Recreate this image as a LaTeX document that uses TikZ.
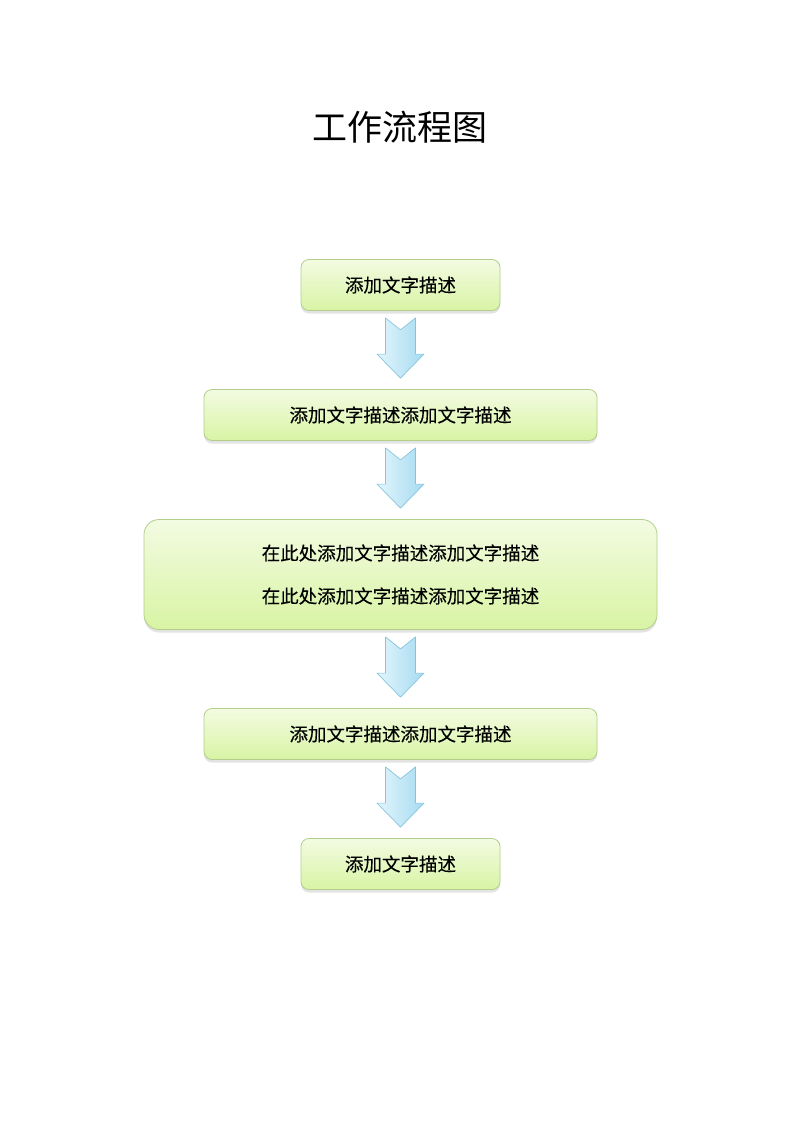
\documentclass[tikz,border=0pt]{standalone}
\usepackage{fontspec}
\setmainfont{Noto Sans CJK SC}
\newfontfamily\boxfont[FakeBold=0.4]{Noto Sans CJK SC}
\usetikzlibrary{positioning,calc,shadows}

\definecolor{boxtop}{HTML}{F3FBE2}
\definecolor{boxbot}{HTML}{D8F4A4}
\definecolor{boxline}{HTML}{B3CE8C}
\definecolor{arrleft}{HTML}{E2F5FC}
\definecolor{arrright}{HTML}{A6DBF1}
\definecolor{arrline}{HTML}{86C4DE}

% block arrow from one box down to the next
\newcommand{\flowarrow}[2]{%
  \coordinate (#1top) at ($(#1.south)+(0,-7)$);
  \coordinate (#1tip) at ($(#2.north)+(0,11)$);
  \draw[blockarrow] ($(#1top)+(-15,0)$) -- ($(#1top)+(0,-12)$) -- ($(#1top)+(15,0)$)
    -- ($(#1tip)+(15,24)$) -- ($(#1tip)+(23.5,24)$) -- (#1tip)
    -- ($(#1tip)+(-23.5,24)$) -- ($(#1tip)+(-15,24)$) -- cycle;
}

\begin{document}
\begin{tikzpicture}[x=1pt,y=1pt,
    node distance=78.2pt,
    stepbox/.style={draw=boxline, line width=0.8pt, rounded corners=8pt,
      top color=boxtop, bottom color=boxbot, font=\boxfont\fontsize{18.5}{20}\selectfont,
      minimum height=51pt, inner sep=0pt,
      drop shadow={opacity=0.22, shadow xshift=0pt, shadow yshift=-3pt}},
    blockarrow/.style={draw=arrline, line width=0.7pt, line join=round,
      left color=arrleft, right color=arrright}
  ]
  \useasboundingbox (0,0) rectangle (800,-1132);

  % Titel
  \node (title) at (400,-127) {\fontsize{35}{38}\selectfont 工作流程图};

  % Kaesten
  \node[stepbox, minimum width=199pt] (s1) at (400.5,-285) {添加文字描述};
  \node[stepbox, minimum width=393pt, below=of s1] (s2) {添加文字描述添加文字描述};
  \node[stepbox, minimum width=513pt, minimum height=110pt, rounded corners=15pt,
    align=center, font=\boxfont\fontsize{18.5}{43}\selectfont, below=of s2] (s3)
    {在此处添加文字描述添加文字描述\\在此处添加文字描述添加文字描述};
  \node[stepbox, minimum width=393pt, below=of s3] (s4) {添加文字描述添加文字描述};
  \node[stepbox, minimum width=199pt, below=of s4] (s5) {添加文字描述};

  % Pfeile
  \flowarrow{s1}{s2}
  \flowarrow{s2}{s3}
  \flowarrow{s3}{s4}
  \flowarrow{s4}{s5}
\end{tikzpicture}
\end{document}
